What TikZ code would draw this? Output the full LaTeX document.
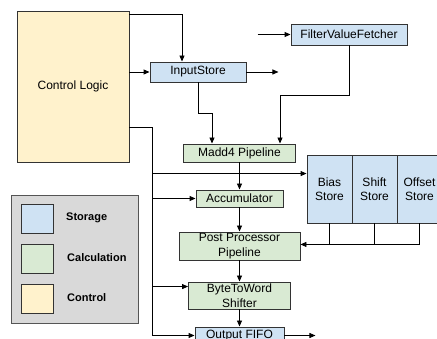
\documentclass[tikz,border=0pt]{standalone}
\usepackage{fontspec}
\setmainfont{Liberation Sans}
\usetikzlibrary{arrows.meta,calc}
\definecolor{storec}{HTML}{CFE2F3}
\definecolor{calcc}{HTML}{D9EAD3}
\definecolor{ctrlc}{HTML}{FFF2CC}
\definecolor{legc}{HTML}{D9D9D9}
\definecolor{legborder}{HTML}{555555}
\definecolor{edge}{HTML}{333333}
\begin{document}
\begin{tikzpicture}[x=1pt,y=-1pt,
  box/.style={draw=edge, line width=0.9pt, inner sep=0pt, align=center, font=\fontsize{12}{14.5}\selectfont},
  storage/.style={box, fill=storec},
  calcbox/.style={box, fill=calcc},
  ctrlbox/.style={box, fill=ctrlc},
  arr/.style={-{Triangle[length=6pt,width=5pt]}, line width=0.9pt},
  wire/.style={line width=0.9pt},
  legtext/.style={font=\fontsize{11}{13}\selectfont\bfseries, anchor=west, inner sep=0pt}
]
\clip (0,0) rectangle (437,339);
\fill[white] (0,0) rectangle (437,339);

% main blocks
\node[ctrlbox, minimum width=112, minimum height=151] (ctrl) at (73,86.5) {Control Logic};
\node[storage, minimum width=96, minimum height=20] (instore) at (198,72) {InputStore};
\node[storage, minimum width=116, minimum height=21] (fvf) at (349,34.5) {FilterValueFetcher};
\node[calcbox, minimum width=112, minimum height=18] (madd) at (239.5,153) {Madd4 Pipeline};
\node[calcbox, minimum width=87, minimum height=17] (acc) at (239.5,198.5) {Accumulator};
\node[calcbox, minimum width=121, minimum height=28] (pp) at (239.5,246) {Post Processor\\Pipeline};
\node[calcbox, minimum width=102, minimum height=27] (btw) at (239.5,295.5) {ByteToWord\\Shifter};
\node[storage, minimum width=89, minimum height=17] (ofifo) at (239.5,335.5) {Output FIFO};

% stores
\node[storage, minimum width=45, minimum height=68] (bias) at (329.5,189) {Bias\\Store};
\node[storage, minimum width=45, minimum height=68] (shift) at (374.5,189) {Shift\\Store};
\node[storage, minimum width=45, minimum height=68] (offset) at (419.5,189) {Offset\\Store};

% legend
\node[draw=legborder, line width=0.9pt, fill=legc, minimum width=127, minimum height=128, inner sep=0pt] (legend) at (74.5,259) {};
\node[storage, minimum width=32, minimum height=29] (lsto) at (37,218.5) {};
\node[calcbox, minimum width=32, minimum height=29] (lcal) at (37,258.5) {};
\node[ctrlbox, minimum width=32, minimum height=29] (lctl) at (37,298.5) {};
\node[legtext] (tsto) at (66,218) {Storage};
\node[legtext] (tcal) at (67,258) {Calculation};
\node[legtext] (tctl) at (67,298) {Control};

% connectors
\coordinate (busx) at (152,0);
\draw[arr] ($(ctrl.north east)+(0,4)$) -| ($(instore.north)+(-16,0)$);
\draw[arr] (ctrl.east |- instore.west) -- (instore.west);
\draw[arr] (instore.east) -- ++(32,0);
\draw[arr] ($(fvf.west)+(-33,0)$) -- (fvf.west);
\draw[arr] (fvf.south) -- ++(0,50) -| ($(madd.north)+(40.5,0)$);
\draw[arr] (instore.south) -- ++(0,31) -| ($(madd.north)+(-27.5,0)$);

\draw[arr] ($(ctrl.south east)+(0,-35)$) -| (busx |- ofifo.west) -- (ofifo.west);
\draw[arr] ($(busx |- bias.north)+(0,19)$) -- ($(bias.north west)+(0,19)$);
\draw[arr] (busx |- acc.west) -- (acc.west);
\draw[arr] ($(busx |- btw.north)+(0,5)$) -- ($(btw.north west)+(0,5)$);

\draw[arr] (madd.south) -- (acc.north);
\draw[arr] (acc.south) -- (pp.north);
\draw[arr] (pp.south) -- (btw.north);
\draw[arr] (btw.south) -- (ofifo.north);
\draw[arr] (ofifo.east) -- ++(31,0);

\coordinate (sb) at ($(offset.south)+(0,21)$);
\draw[wire] (bias.south) -- ++(0,21);
\draw[wire] (shift.south) -- ++(0,21);
\draw[arr] (offset.south) -- (sb) -- (pp.east |- sb);
\end{tikzpicture}
\end{document}
